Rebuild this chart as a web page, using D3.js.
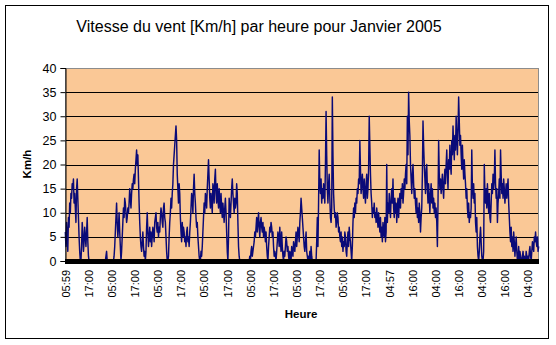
<!DOCTYPE html>
<html><head><meta charset="utf-8">
<script src="https://cdn.jsdelivr.net/npm/d3@7"></script>
<style>
body{margin:0;background:#fff}
text{font-family:"Liberation Sans",Arial,sans-serif;fill:#000}
</style>
</head><body>
<svg id="c" width="556" height="345"></svg>
<script>
const speed = [
6,3,8,5,2,9,7,12,10,14,13,16,15,17,12,14,
11,8,15,17,13,9,5,2,0,0,3,8,6,2,4,7,
5,3,6,9,4,1,0,0,0,0,0,0,0,0,0,0,
0,0,0,0,0,0,0,0,0,0,0,0,0,0,0,0,
0,1,2,0,0,0,0,0,0,0,0,0,0,0,1,3,
6,9,12,8,5,7,10,6,3,0,2,5,8,11,9,13,
12,10,8,9,11,10,12,15,13,11,14,16,15,17,18,16,
19,21,23,20,22,17,12,8,5,3,2,4,6,3,1,2,
0,2,7,10,6,3,5,7,4,6,3,5,7,6,4,8,
9,10,7,6,8,5,7,6,9,11,10,8,7,11,12,9,
8,5,2,0,0,1,5,8,10,13,11,14,16,20,22,24,
26,28,25,18,15,12,16,14,9,6,4,8,5,7,6,4,
5,3,6,7,4,5,3,6,8,11,14,13,10,15,18,14,
12,9,7,8,5,3,1,0,0,2,1,3,6,9,12,10,
14,13,11,15,18,21,17,13,11,14,12,10,16,15,12,17,
19,14,12,16,13,11,15,12,10,14,11,9,12,10,8,11,
13,10,6,2,0,5,13,11,9,12,15,17,14,12,10,13,
11,12,16,14,8,3,1,0,0,0,0,0,0,0,0,0,
0,0,0,0,0,0,0,1,0,2,3,1,2,3,4,6,
5,7,9,6,8,10,7,5,8,9,7,6,8,5,7,6,
4,6,3,1,0,3,5,7,6,8,7,5,6,3,1,2,
1,0,2,4,6,5,3,7,4,2,6,3,1,0,2,1,
3,5,4,2,3,1,0,2,1,0,3,2,1,4,3,2,
4,6,3,5,7,6,4,8,10,13,11,9,7,5,3,2,
4,6,2,1,0,1,0,2,0,3,1,0,0,0,0,0,
0,0,4,9,3,12,23,16,14,17,12,15,13,16,14,12,
20,31,22,15,12,16,18,13,9,8,11,34,22,14,11,9,
10,7,8,10,9,6,7,5,4,6,3,5,2,4,3,6,
5,2,1,4,6,3,7,5,4,2,0,3,8,11,9,12,
10,13,12,15,14,17,16,25,19,14,16,18,15,13,17,14,
12,16,18,13,15,19,30,24,18,14,12,9,11,10,12,9,
10,8,11,9,7,10,8,6,9,5,7,4,8,6,5,9,
4,6,20,8,12,10,14,11,9,13,15,12,17,11,9,13,
10,12,8,11,13,9,12,14,11,15,13,16,12,14,17,15,
18,20,16,30,22,35,29,26,20,17,14,18,20,16,13,15,
12,10,13,9,11,8,12,10,6,9,11,18,29,24,20,17,
14,19,20,15,12,16,13,10,14,16,12,15,11,13,10,12,
9,11,8,3,12,25,18,15,17,14,16,18,15,13,17,19,
16,20,23,18,15,21,19,24,20,18,25,22,28,24,21,26,
23,30,26,22,27,34,29,24,26,22,19,24,20,17,21,18,
16,13,15,11,9,12,8,10,9,11,23,15,13,16,12,14,
8,6,9,3,1,0,2,5,7,4,1,0,0,2,20,14,
12,15,11,16,13,10,14,9,8,12,16,14,18,15,17,23,
16,13,15,8,12,14,17,13,23,18,14,16,13,17,15,12,
14,16,13,15,17,12,9,6,4,7,3,5,2,6,4,1,
3,5,2,0,1,3,0,2,1,0,0,1,2,0,1,0,
0,2,1,0,1,0,2,3,1,0,2,4,3,2,5,4,
6,4,3,5,2,3
];
const tickLabels = ["05:59","17:00","05:00","17:00","05:00","17:00","05:00","17:00","05:00","17:00","05:00","17:00","05:00","17:00","04:57","16:00","04:00","16:00","04:00","16:00","04:00"];
const tickStep = 37;
const yTicks = [0,5,10,15,20,25,30,35,40];
const title = "Vitesse du vent [Km/h] par heure pour Janvier 2005";
const xTitle = "Heure";
const yTitle = "Km/h";

const svg = d3.select("#c");
const L = 65, R = 539, T = 68, B = 261;
const N = speed.length;

svg.append("rect").attr("x",0).attr("y",0).attr("width",556).attr("height",345).attr("fill","#fff");
svg.append("rect").attr("x",5.5).attr("y",5.5).attr("width",543).attr("height",333)
  .attr("fill","#fff").attr("stroke","#000").attr("stroke-width",1);

const x = d3.scaleLinear().domain([-0.5, N - 0.5]).range([L, R]);
const y = d3.scaleLinear().domain([0, 40]).range([B, T]);

svg.append("rect").attr("x",L).attr("y",T).attr("width",R-L).attr("height",B-T).attr("fill","#FAC896");

// gridlines
svg.append("g").selectAll("line").data(yTicks.filter(v => v > 0 && v < 40)).join("line")
  .attr("x1",L).attr("x2",R).attr("y1",d=>Math.round(y(d))+0.5).attr("y2",d=>Math.round(y(d))+0.5)
  .attr("stroke","#000").attr("stroke-width",1);

// plot border (gray)
svg.append("rect").attr("x",L+0.5).attr("y",T+0.5).attr("width",R-L-1).attr("height",B-T)
  .attr("fill","none").attr("stroke","#8c8c8c").attr("stroke-width",1);

// data line
const line = d3.line().x((d,i)=>x(i)).y(d=>y(d));
svg.append("path").datum(speed).attr("d",line).attr("fill","none")
  .attr("stroke","#0a0a78").attr("stroke-width",1.45).attr("stroke-linejoin","round");

// y axis
const yAxis = d3.axisLeft(y).tickValues(yTicks).tickSize(5).tickPadding(4);
const gy = svg.append("g").attr("transform",`translate(${L+0.5},0)`).call(yAxis);
gy.select(".domain").attr("stroke","#000");
gy.selectAll(".tick line").attr("stroke","#000");
gy.selectAll("text").attr("font-size",12.5).attr("font-family","'Liberation Sans',Arial,sans-serif");

// bottom thick axis band
svg.append("rect").attr("x",L).attr("y",B-2).attr("width",R-L).attr("height",5).attr("fill","#000");

// x axis labels
const xAxis = d3.axisBottom(x).tickValues(tickLabels.map((d,i)=>i*tickStep))
  .tickFormat((d,i)=>tickLabels[i]).tickSize(0);
const gx = svg.append("g").attr("transform",`translate(0,${B+9})`).call(xAxis);
gx.select(".domain").remove();
gx.selectAll("text").attr("font-size",11).attr("font-family","'Liberation Sans',Arial,sans-serif")
  .attr("text-anchor","end").attr("transform","rotate(-90)").attr("x",0).attr("y",0).attr("dy","0.35em");

// titles
svg.append("text").attr("x",259).attr("y",32).attr("text-anchor","middle").attr("font-size",16).text(title);
svg.append("text").attr("x",301).attr("y",318).attr("text-anchor","middle").attr("font-size",11.5).attr("font-weight","bold").text(xTitle);
svg.append("text").attr("transform","translate(27,164) rotate(-90)").attr("text-anchor","middle").attr("dy","0.35em")
  .attr("font-size",11.5).attr("font-weight","bold").text(yTitle);
</script>
</body></html>
